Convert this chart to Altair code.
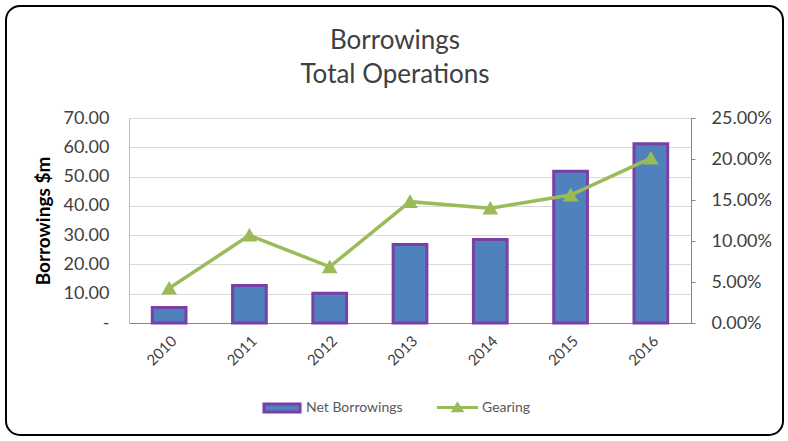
import altair as alt
import pandas as pd

years = ["2010", "2011", "2012", "2013", "2014", "2015", "2016"]
net_borrowings = [5.3, 12.8, 10.2, 26.8, 28.5, 51.8, 61.2]
gearing = [0.0424, 0.107, 0.0685, 0.148, 0.140, 0.156, 0.201]
bar_name = "Net Borrowings"
line_name = "Gearing"
title_lines = ["Borrowings", "Total Operations"]
y_title = "Borrowings $m"

df = pd.DataFrame({"year": years, "borrow": net_borrowings, "gearing": gearing,
                   "sb": [bar_name] * len(years), "sl": [line_name] * len(years)})

FONT = "Lato"
W, H = 562, 205

base = alt.Chart(df).encode(
    x=alt.X("year:N", title=None,
            scale=alt.Scale(paddingInner=0.58, paddingOuter=0.29),
            axis=alt.Axis(labelAngle=-45, labelFontSize=15, labelColor="#404040",
                          labelFont=FONT, ticks=False, domainColor="#868686",
                          domainWidth=1, labelPadding=10))
)

bars = base.mark_bar(stroke="#7B3FA8", strokeWidth=3).encode(
    y=alt.Y("borrow:Q", title=y_title,
            scale=alt.Scale(domain=[0, 70]),
            axis=alt.Axis(orient="left", values=[0, 10, 20, 30, 40, 50, 60, 70],
                          labelExpr="datum.value == 0 ? '-' : format(datum.value, '.2f')",
                          labelFontSize=18, labelColor="#404040", labelFont=FONT,
                          ticks=False, domainColor="#BFBFBF", labelPadding=20,
                          gridColor="#D9D9D9", titleFontSize=19, titleFont=FONT,
                          titleFontWeight="bold", titleColor="#000000", titlePadding=9)),
    fill=alt.Fill("sb:N", scale=alt.Scale(domain=[bar_name], range=["#4F81BD"]),
                  legend=alt.Legend(title=None, orient="none", legendX=133, legendY=270,
                                    symbolType="M-1,-0.22H1V0.22H-1Z", symbolSize=1300,
                                    symbolStrokeColor="#7B3FA8", symbolStrokeWidth=3,
                                    labelFontSize=14, labelColor="#595959", labelFont=FONT,
                                    labelOffset=4)),
)

line = base.mark_line(strokeWidth=3.5, color="#9BBB59",
                      point=alt.OverlayMarkDef(shape="triangle-up", size=150, filled=True,
                                               color="#9BBB59")).encode(
    y=alt.Y("gearing:Q", title=None,
            scale=alt.Scale(domain=[0, 0.25]),
            axis=alt.Axis(orient="right", values=[0, 0.05, 0.10, 0.15, 0.20, 0.25],
                          format=".2%", labelFontSize=18, labelColor="#404040",
                          labelFont=FONT, grid=False, tickSize=4, tickColor="#868686",
                          domainColor="#868686", labelPadding=16)),
    stroke=alt.Stroke("sl:N", scale=alt.Scale(domain=[line_name], range=["#9BBB59"]),
                      legend=alt.Legend(title=None, orient="none", legendX=306, legendY=267,
                                        symbolType="M-1,0H1M-0.2,0.16L0,-0.16L0.2,0.16Z",
                                        symbolSize=1700, symbolFillColor="#9BBB59",
                                        symbolStrokeColor="#9BBB59", symbolStrokeWidth=3,
                                        labelFontSize=14, labelColor="#595959", labelFont=FONT,
                                        labelOffset=2)),
)

border = alt.Chart(alt.Data(values=[{}])).mark_rect(
    fill="transparent", stroke="#000000", strokeWidth=2, cornerRadius=14
).encode(
    x=alt.value(-123), x2=alt.value(654),
    y=alt.value(-112), y2=alt.value(317),
)

chart = alt.layer(border, bars, line).resolve_scale(y="independent").properties(
    width=W, height=H,
    title=alt.TitleParams(title_lines, fontSize=26, font=FONT, fontWeight="normal",
                          color="#404040", anchor="middle", dx=-15, dy=115, offset=32,
                          lineHeight=34),
    autosize=alt.AutoSizeParams(type="none"),
    padding={"left": 129, "top": 118, "right": 97, "bottom": 118},
).configure_view(stroke=None).configure(background="white")

chart.save("out.html", embed_options={"renderer": "svg", "actions": False})
